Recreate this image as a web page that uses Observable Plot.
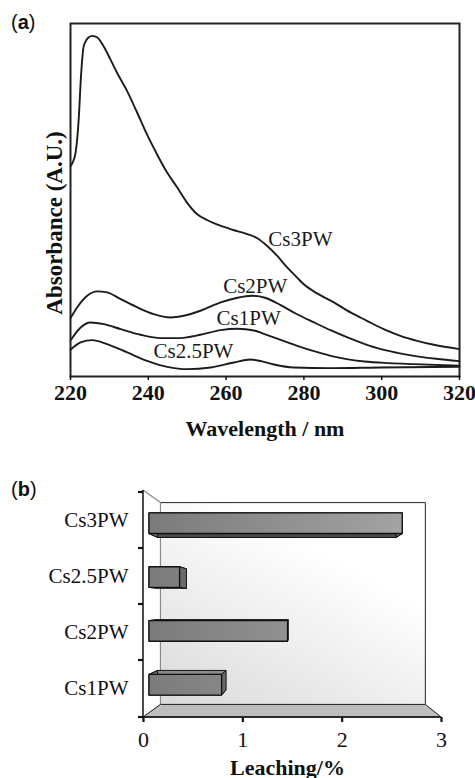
<!DOCTYPE html>
<html><head><meta charset="utf-8">
<script src="https://cdn.jsdelivr.net/npm/d3@7"></script>
<script src="https://cdn.jsdelivr.net/npm/@observablehq/plot@0.6"></script>
<style>
body{margin:0;background:#fff;}
#wrap{position:relative;width:475px;height:778px;overflow:hidden;background:#fff;}
.panel{position:absolute;left:0;}
.tag{position:absolute;left:11px;font-family:"Liberation Sans",Arial,sans-serif;font-size:20px;line-height:20px;color:#111;}
</style></head>
<body><div id="wrap">
<div id="pa" class="panel" style="top:0"></div>
<div id="pb" class="panel" style="top:445px"></div>
<div class="tag" style="top:12px">(<b>a</b>)</div>
<div class="tag" style="top:479px">(<b>b</b>)</div>
</div>
<script>
// ---------- Panel (a): UV-Vis spectra ----------
const seriesNames = ["Cs3PW", "Cs2PW", "Cs1PW", "Cs2.5PW"];
const cs3PW_wl  = [220, 220.5, 221.3, 222.1, 222.75, 223.4, 224.7, 225.6, 226.9, 228.5, 230.2, 231.9, 234.5, 237.1, 239.6, 242.2, 244.8, 247.4, 249.9, 252.5, 255.1, 258.5, 261.9, 265.4, 267.9, 270.5, 273.1, 275.7, 278.2, 279.9, 283.4, 287.7, 292, 296.2, 300.5, 304.8, 309.1, 313.4, 320];
const cs3PW_abs = [0.63, 0.64, 0.67, 0.77, 0.91, 0.99, 1.017, 1.021, 1.016, 0.99, 0.952, 0.912, 0.857, 0.792, 0.727, 0.667, 0.612, 0.567, 0.522, 0.487, 0.469, 0.452, 0.439, 0.427, 0.415, 0.392, 0.362, 0.327, 0.297, 0.277, 0.249, 0.222, 0.192, 0.167, 0.142, 0.122, 0.107, 0.095, 0.082];
const cs2PW_wl  = [220, 221.7, 224.3, 226.9, 229.4, 232.9, 237.2, 241.4, 245.7, 249.1, 253.4, 258.6, 262.9, 266.7, 270, 274, 278, 282.6, 287, 291.2, 295.5, 299.8, 304, 308.3, 314, 320];
const cs2PW_abs = [0.175, 0.207, 0.242, 0.255, 0.252, 0.232, 0.207, 0.187, 0.177, 0.182, 0.197, 0.222, 0.236, 0.242, 0.236, 0.214, 0.188, 0.162, 0.138, 0.117, 0.098, 0.082, 0.071, 0.062, 0.053, 0.046];
const cs1PW_wl  = [220, 222.6, 225.1, 228.6, 232.9, 238, 243.2, 247.4, 253.4, 258.6, 262.9, 267.2, 269.7, 274, 278.3, 282.6, 286.9, 291, 295.5, 302, 308.3, 320];
const cs1PW_abs = [0.108, 0.147, 0.162, 0.157, 0.142, 0.125, 0.115, 0.115, 0.125, 0.139, 0.143, 0.138, 0.128, 0.11, 0.092, 0.076, 0.062, 0.052, 0.045, 0.04, 0.037, 0.032];
const cs25PW_wl  = [220, 222.6, 225.6, 229.4, 234.6, 239.7, 244.9, 250, 256, 262, 266.3, 269, 272.3, 277.4, 286.9, 299.8, 320];
const cs25PW_abs = [0.08, 0.102, 0.109, 0.097, 0.072, 0.047, 0.029, 0.022, 0.027, 0.042, 0.051, 0.046, 0.036, 0.027, 0.025, 0.027, 0.029];
const xTicksA = [220, 240, 260, 280, 300, 320];
const labelWl  = [279.1, 267.5, 265.8, 251.6];
const labelAbs = [0.412, 0.269, 0.175, 0.075];

// ---------- Panel (b): leaching ----------
const catsB  = ["Cs3PW", "Cs2.5PW", "Cs2PW", "Cs1PW"];
const leach  = [2.65, 0.32, 1.45, 0.76];
const xTicksB = [0, 1, 2, 3];

const SERIF = "'Liberation Serif','Times New Roman',Times,serif";

const wlArr = [cs3PW_wl, cs2PW_wl, cs1PW_wl, cs25PW_wl];
const abArr = [cs3PW_abs, cs2PW_abs, cs1PW_abs, cs25PW_abs];
const rows = [];
seriesNames.forEach((name, i) => wlArr[i].forEach((w, j) => rows.push({name, w, a: abArr[i][j]})));
const labels = seriesNames.map((name, i) => ({name, w: labelWl[i], a: labelAbs[i]}));

const plotA = Plot.plot({
  width: 475, height: 445,
  marginLeft: 70, marginRight: 16, marginTop: 23, marginBottom: 69,
  style: {fontFamily: SERIF, fontSize: "21px", background: "transparent", color: "#111"},
  x: {domain: [220, 320]},
  y: {domain: [0, 1.058], axis: null},
  marks: [
    Plot.line(rows, {x: "w", y: "a", z: "name", curve: "monotone-x", stroke: "#1c1c1c", strokeWidth: 1.9}),
    Plot.frame({stroke: "#222", strokeWidth: 2}),
    Plot.axisX({ticks: xTicksA, tickFormat: d => String(d), tickSize: 4, tickPadding: 4, fontSize: 22, fontWeight: "bold", label: null, strokeWidth: 1.5}),
    Plot.text(labels, {x: "w", y: "a", text: "name", fontSize: 21, fill: "#1a1a1a"}),
    Plot.text(["Wavelength / nm"], {text: d => d, frameAnchor: "bottom", dy: 59, fontSize: 22, fontWeight: "bold"}),
    Plot.text(["Absorbance (A.U.)"], {text: d => d, frameAnchor: "left", textAnchor: "middle", rotate: -90, dx: -16, dy: 23, fontSize: 23, fontWeight: "bold"})
  ]
});
document.getElementById("pa").appendChild(plotA);

// 3D scene for panel (b), drawn through Plot's scales
function scene(index, scales, values, dim) {
  const x = scales.x, y = scales.y;
  const L = dim.marginLeft, R = dim.width - dim.marginRight, T = dim.marginTop, B = dim.height - dim.marginBottom;
  const VP = [L + (R - L) * 0.527, T + (B - T) * 0.5];
  const P = (px, py, k) => [px + (VP[0] - px) * k, py + (VP[1] - py) * k];
  const kw = 0.111, k1 = 0.038, k2 = 0.093;
  const g = d3.create("svg:g");
  const defs = g.append("defs");
  const wg = defs.append("linearGradient").attr("id", "wallG").attr("x1", 0).attr("y1", 1).attr("x2", 0.55).attr("y2", 0.2);
  wg.append("stop").attr("offset", 0).attr("stop-color", "#dadada");
  wg.append("stop").attr("offset", 1).attr("stop-color", "#ffffff");
  const bg = defs.append("linearGradient").attr("id", "barG").attr("gradientUnits", "userSpaceOnUse")
    .attr("x1", L).attr("y1", 0).attr("x2", R).attr("y2", 0);
  bg.append("stop").attr("offset", 0).attr("stop-color", "#7a7a7a");
  bg.append("stop").attr("offset", 1).attr("stop-color", "#a9a9a9");
  const poly = pts => pts.map(p => p.join(",")).join(" ");

  // back wall
  const bTL = P(L, T, kw), bTR = P(R, T, kw), bBR = P(R, B, kw), bBL = P(L, B, kw);
  g.append("polygon").attr("points", poly([bTL, bTR, bBR, bBL])).attr("fill", "url(#wallG)");
  g.append("line").attr("x1", bTL[0]).attr("y1", bTL[1]).attr("x2", bTR[0]).attr("y2", bTR[1]).attr("stroke", "#222").attr("stroke-width", 1);
  g.append("line").attr("x1", bTR[0]).attr("y1", bTR[1]).attr("x2", bBR[0]).attr("y2", bBR[1]).attr("stroke", "#222").attr("stroke-width", 1);
  g.append("line").attr("x1", bTL[0]).attr("y1", bTL[1]).attr("x2", bBL[0]).attr("y2", bBL[1]).attr("stroke", "#8a8a8a").attr("stroke-width", 1.2);
  g.append("line").attr("x1", L).attr("y1", T).attr("x2", bTL[0]).attr("y2", bTL[1]).attr("stroke", "#8a8a8a").attr("stroke-width", 1.2);
  // floor
  g.append("polygon").attr("points", poly([[L, B], [R, B], bBR, bBL])).attr("fill", "#bdbdbd").attr("stroke", "#1a1a1a").attr("stroke-width", 1);

  // bars
  const step = y(catsB[1]) - y(catsB[0]);
  const bw = step * 0.383;
  catsB.forEach((c, i) => {
    const y0 = y(c) + (step - bw) / 2, y1 = y0 + bw, x0 = x(0), x1 = x(leach[i]);
    const f = [P(x0, y0, k1), P(x1, y0, k1), P(x1, y1, k1), P(x0, y1, k1)];
    const b = [P(x0, y0, k2), P(x1, y0, k2), P(x1, y1, k2), P(x0, y1, k2)];
    const faces = [
      [[f[0], f[1], b[1], b[0]], "#8a8a8a"],
      [[f[3], f[2], b[2], b[3]], "#4a4a4a"],
      [[f[1], b[1], b[2], f[2]], "#6a6a6a"],
      [[f[0], b[0], b[3], f[3]], "#6a6a6a"]
    ];
    faces.forEach(([pts, col]) => g.append("polygon").attr("points", poly(pts)).attr("fill", col)
      .attr("stroke", "#111").attr("stroke-width", 1).attr("stroke-linejoin", "round"));
    g.append("polygon").attr("points", poly(f)).attr("fill", "url(#barG)")
      .attr("stroke", "#111").attr("stroke-width", 1.3).attr("stroke-linejoin", "round");
  });

  // front-left axis line and band-boundary ticks
  g.append("line").attr("x1", L).attr("y1", T).attr("x2", L).attr("y2", B).attr("stroke", "#111").attr("stroke-width", 1.5);
  g.append("line").attr("x1", L).attr("y1", B).attr("x2", R).attr("y2", B).attr("stroke", "#111").attr("stroke-width", 1.5);
  const bounds = catsB.map(c => y(c)).concat([B]);
  bounds.forEach(yy => g.append("line").attr("x1", L - 5).attr("y1", yy).attr("x2", L).attr("y2", yy)
    .attr("stroke", "#111").attr("stroke-width", 2.2));
  return g.node();
}

const plotB = Plot.plot({
  width: 475, height: 333,
  marginLeft: 143, marginRight: 34, marginTop: 45, marginBottom: 61,
  style: {fontFamily: SERIF, fontSize: "21px", background: "transparent", color: "#111"},
  x: {domain: [0, 3]},
  y: {type: "band", domain: catsB, padding: 0},
  marks: [
    scene,
    Plot.axisX({ticks: xTicksB, tickFormat: d => String(d), tickSize: 5, tickPadding: 9, fontSize: 22, label: null, strokeWidth: 2.2, stroke: "#111"}),
    Plot.axisY({tickSize: 0, tickPadding: 15, fontSize: 21, label: null}),
    Plot.text(["Leaching/%"], {text: d => d, frameAnchor: "bottom", dx: -5, dy: 57, fontSize: 22, fontWeight: "bold"})
  ]
});
document.getElementById("pb").appendChild(plotB);
</script>
</body></html>
